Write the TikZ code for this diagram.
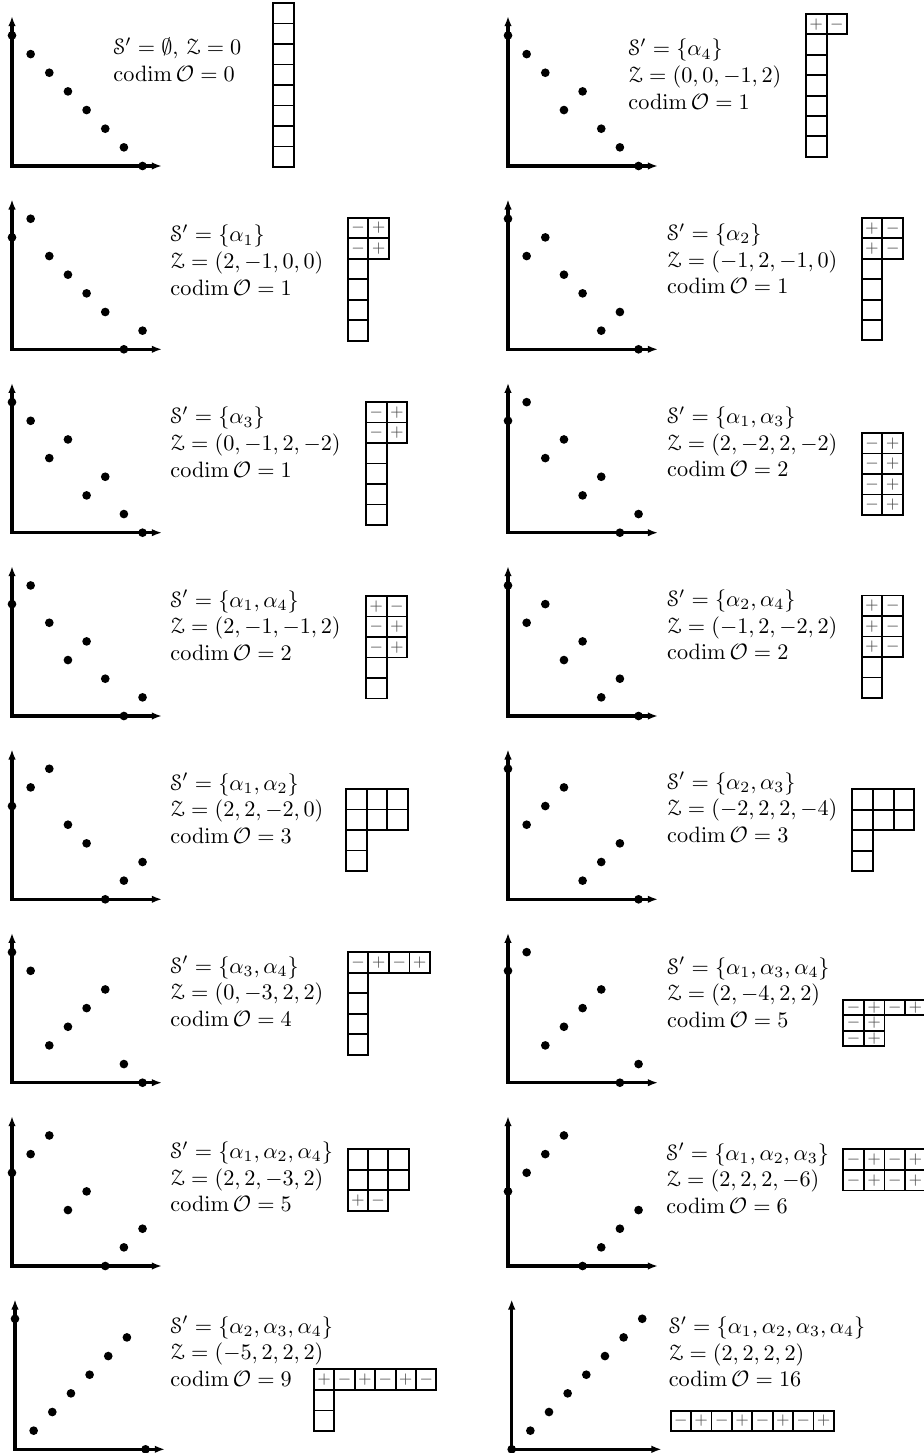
\documentclass[tikz,border=0pt]{standalone}
\usepackage{amsmath,amssymb}
\usepackage[mathscr]{eucal}
\usetikzlibrary{arrows.meta}
\tikzset{
  axisline/.style={line width=1.4pt,{Latex[length=4.6pt,width=3.4pt]}-{Latex[length=4.6pt,width=3.4pt]}},
  dot/.style={circle,fill=black,inner sep=0pt,minimum size=3.9pt},
  lbl/.style={anchor=base west,inner sep=0pt},
  cellline/.style={line width=0.85pt},
  sgn/.style={inner sep=0pt,font=\scriptsize,text=black!70},
}
\def\signp{$+$}\def\signm{$-$}\def\tmpn{n}
% panel: id, x0, y of x-axis, heights
\newcommand\panel[4]{%
  \coordinate (#1-o) at (#2,#3);
  \coordinate (#1-xe) at (#2+150,#3);
  \coordinate (#1-ye) at (#2,#3-150);
  \draw[axisline] (#1-ye) -- (#1-o) -- (#1-xe);
  \foreach \hh [count=\ii from 0] in {#4} {
    \node[dot] (#1-d\ii) at ({#2+\ii*18.65},{#3-\hh*18.65}) {};
  }%
}
% labels: id, x, baseline, line1, line2, line3
\newcommand\labels[6]{%
  \node[lbl] (#1-s) at (#2,#3) {#4};
  \node[lbl] (#1-z) at (#2,#3+26.7) {#5};
  \node[lbl] (#1-c) at (#2,#3+53.4) {#6};
}
% tableau: id, x, y (top-left), w, h, rows
\newcommand\tableau[6]{%
  \foreach \row [count=\ri from 0] in {#6} {
    \foreach \s [count=\ci from 0] in \row {
      \draw[cellline] ({#2+\ci*#4},{#3+\ri*#5}) rectangle ++(#4,#5);
      \edef\tmps{\s}%
      \ifx\tmps\tmpn\else
        \node[sgn] (#1-t\ri-\ci) at ({#2+(\ci+0.5)*#4},{#3+(\ri+0.5)*#5}) {\csname sign\s\endcsname};
      \fi
    }
  }%
}
\newcommand\Sp{\mathscr{S}'}
\newcommand\Zc{\mathscr{Z}}
\newcommand\cod[1]{$\operatorname{codim}\mathcal{O}=#1$}
\begin{document}
\begin{tikzpicture}[x=0.45pt,y=-0.45pt]
\useasboundingbox (0,0) rectangle (924,1453);

% ---------- row 1
\panel{L1}{12}{166}{7,6,5,4,3,2,1,0}
\node[lbl] (L1-s) at (113,55) {$\Sp=\emptyset$, $\Zc=0$};
\node[lbl] (L1-c) at (113,82) {\cod{0}};
\tableau{L1}{273}{3}{20.6}{20.5}{{n},{n},{n},{n},{n},{n},{n},{n}}

\panel{R1}{508}{166}{7,6,5,3,4,2,1,0}
\labels{R1}{628}{56}{$\Sp=\{\alpha_4\}$}{$\Zc=(0,0,-1,2)$}{\cod{1}}
\tableau{R1}{806}{14}{20.6}{20.4}{{p,m},{n},{n},{n},{n},{n},{n}}

% ---------- row 2
\panel{L2}{12}{349.3}{6,7,5,4,3,2,0,1}
\labels{L2}{170}{242}{$\Sp=\{\alpha_1\}$}{$\Zc=(2,-1,0,0)$}{\cod{1}}
\tableau{L2}{347.7}{217.7}{20.6}{20.5}{{m,p},{m,p},{n},{n},{n},{n}}

\panel{R2}{508}{349.3}{7,5,6,4,3,1,2,0}
\labels{R2}{666.7}{240.5}{$\Sp=\{\alpha_2\}$}{$\Zc=(-1,2,-1,0)$}{\cod{1}}
\tableau{R2}{861.7}{218}{20.7}{20.4}{{p,m},{p,m},{n},{n},{n},{n}}

% ---------- row 3
\panel{L3}{12}{532.7}{7,6,4,5,2,3,1,0}
\labels{L3}{170}{424}{$\Sp=\{\alpha_3\}$}{$\Zc=(0,-1,2,-2)$}{\cod{1}}
\tableau{L3}{366}{402}{20.6}{20.5}{{m,p},{m,p},{n},{n},{n},{n}}

\panel{R3}{508}{532.7}{6,7,4,5,2,3,0,1}
\labels{R3}{666.7}{423.5}{$\Sp=\{\alpha_1,\alpha_3\}$}{$\Zc=(2,-2,2,-2)$}{\cod{2}}
\tableau{R3}{861.7}{433}{20.7}{20.5}{{m,p},{m,p},{m,p},{m,p}}

% ---------- row 4
\panel{L4}{12}{716}{6,7,5,3,4,2,0,1}
\labels{L4}{170}{607}{$\Sp=\{\alpha_1,\alpha_4\}$}{$\Zc=(2,-1,-1,2)$}{\cod{2}}
\tableau{L4}{366}{596}{20.6}{20.5}{{p,m},{m,p},{m,p},{n},{n}}

\panel{R4}{508}{716}{7,5,6,3,4,1,2,0}
\labels{R4}{666.7}{606.5}{$\Sp=\{\alpha_2,\alpha_4\}$}{$\Zc=(-1,2,-2,2)$}{\cod{2}}
\tableau{R4}{861.7}{595.5}{20.7}{20.5}{{p,m},{p,m},{p,m},{n},{n}}

% ---------- row 5
\panel{L5}{12}{899.3}{5,6,7,4,3,0,1,2}
\labels{L5}{170}{790}{$\Sp=\{\alpha_1,\alpha_2\}$}{$\Zc=(2,2,-2,0)$}{\cod{3}}
\tableau{L5}{346}{789}{20.6}{20.5}{{n,n,n},{n,n,n},{n},{n}}

\panel{R5}{508}{899.3}{7,4,5,6,1,2,3,0}
\labels{R5}{666.7}{789}{$\Sp=\{\alpha_2,\alpha_3\}$}{$\Zc=(-2,2,2,-4)$}{\cod{3}}
\tableau{R5}{852.3}{789.3}{20.7}{20.5}{{n,n,n},{n,n,n},{n},{n}}

% ---------- row 6
\panel{L6}{12}{1082.7}{7,6,2,3,4,5,1,0}
\labels{L6}{170}{973}{$\Sp=\{\alpha_3,\alpha_4\}$}{$\Zc=(0,-3,2,2)$}{\cod{4}}
\tableau{L6}{347.7}{952.3}{20.6}{20.5}{{m,p,m,p},{n},{n},{n},{n}}

\panel{R6}{508}{1082.7}{6,7,2,3,4,5,0,1}
\labels{R6}{666.7}{974}{$\Sp=\{\alpha_1,\alpha_3,\alpha_4\}$}{$\Zc=(2,-4,2,2)$}{\cod{5}}
\tableau{R6}{843.3}{1000}{20.6}{15.3}{{m,p,m,p},{m,p},{m,p}}

% ---------- row 7
\panel{L7}{12}{1266}{5,6,7,3,4,0,1,2}
\labels{L7}{170}{1158.3}{$\Sp=\{\alpha_1,\alpha_2,\alpha_4\}$}{$\Zc=(2,2,-3,2)$}{\cod{5}}
\tableau{L7}{347.7}{1149}{20.3}{20.6}{{n,n,n},{n,n,n},{p,m}}

\panel{R7}{508}{1266}{4,5,6,7,0,1,2,3}
\labels{R7}{666}{1160}{$\Sp=\{\alpha_1,\alpha_2,\alpha_3\}$}{$\Zc=(2,2,2,-6)$}{\cod{6}}
\tableau{R7}{843.3}{1149.3}{20.6}{20.6}{{m,p,m,p},{m,p,m,p}}

% ---------- row 8
\panel{L8}{15}{1449.3}{7,1,2,3,4,5,6,0}
\labels{L8}{170}{1333}{$\Sp=\{\alpha_2,\alpha_3,\alpha_4\}$}{$\Zc=(-5,2,2,2)$}{\cod{9}}
\tableau{L8}{314}{1369.3}{20.4}{20.6}{{p,m,p,m,p,m},{n},{n}}

\panel{R8}{511.7}{1449.3}{0,1,2,3,4,5,6,7}
\labels{R8}{668.3}{1333.5}{$\Sp=\{\alpha_1,\alpha_2,\alpha_3,\alpha_4\}$}{$\Zc=(2,2,2,2)$}{\cod{16}}
\tableau{R8}{670.7}{1410.7}{20.4}{20.4}{{m,p,m,p,m,p,m,p}}
\end{tikzpicture}
\end{document}
